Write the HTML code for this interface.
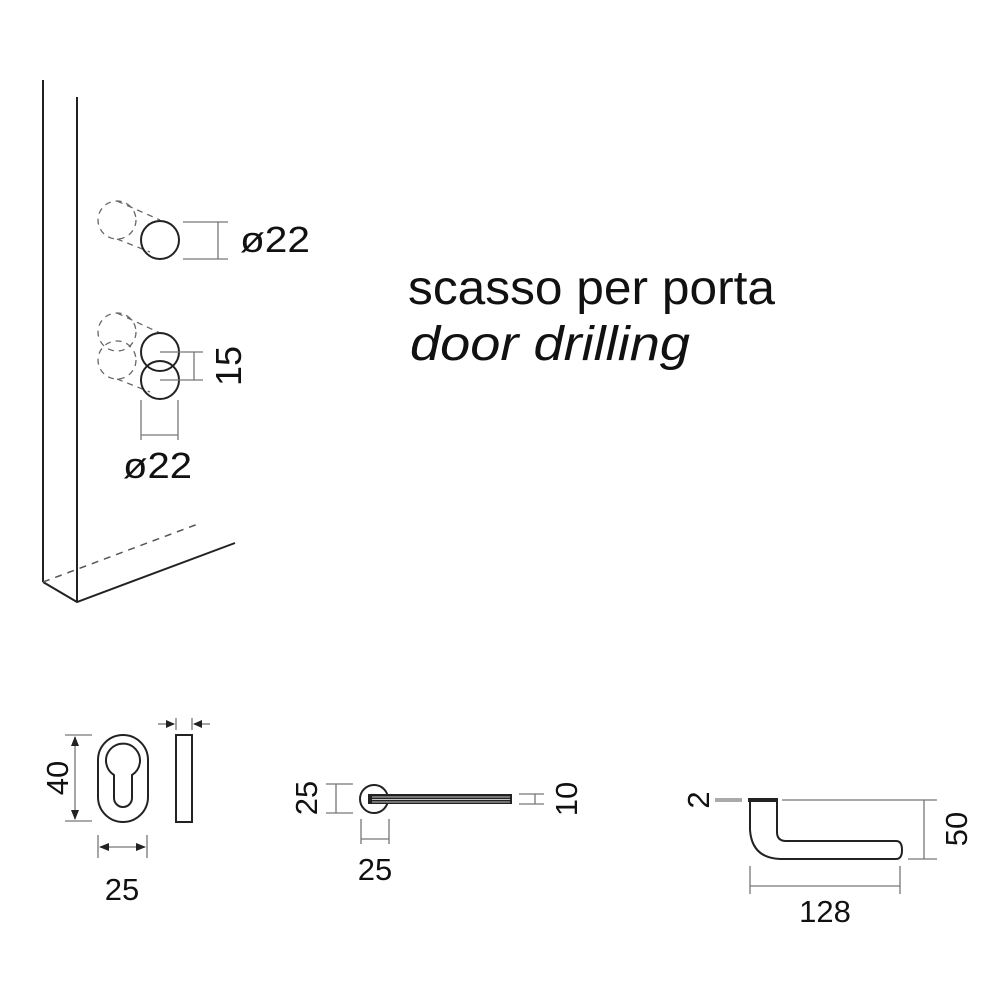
<!DOCTYPE html>
<html><head><meta charset="utf-8"><style>html,body{margin:0;padding:0;background:#fff}svg{display:block}</style></head>
<body>
<svg width="1000" height="1002" viewBox="0 0 1000 1002" xmlns="http://www.w3.org/2000/svg" font-family="Liberation Sans, sans-serif">
<rect width="1000" height="1002" fill="#fff"/>
<g fill="none" stroke="#222" stroke-width="2">
  <line x1="43" y1="80" x2="43" y2="582"/>
  <line x1="77" y1="97" x2="77" y2="602"/>
  <polyline points="43,582 77,602 235,543"/>
</g>
<line x1="43" y1="582" x2="198" y2="524" stroke="#555" stroke-width="1.5" stroke-dasharray="7,6"/>
<g fill="none" stroke="#666" stroke-width="1.3" stroke-dasharray="6,5">
  <circle cx="117" cy="220" r="19"/>
  <line x1="117" y1="201" x2="160" y2="220"/>
  <line x1="117" y1="239" x2="150" y2="252"/>
  <circle cx="117" cy="332" r="19"/>
  <circle cx="117" cy="360" r="19"/>
  <line x1="117" y1="313" x2="160" y2="333"/>
  <line x1="117" y1="379" x2="150" y2="392"/>
</g>
<g fill="none" stroke="#222" stroke-width="2">
  <circle cx="160" cy="240" r="19"/>
  <circle cx="160" cy="352" r="19"/>
  <circle cx="160" cy="380" r="19"/>
</g>
<g fill="none" stroke="#777" stroke-width="1.3">
  <line x1="183" y1="222" x2="228" y2="222"/>
  <line x1="183" y1="259" x2="228" y2="259"/>
  <line x1="218" y1="222" x2="218" y2="259"/>
  <line x1="160" y1="352" x2="203" y2="352"/>
  <line x1="160" y1="380" x2="203" y2="380"/>
  <line x1="194" y1="352" x2="194" y2="380"/>
  <line x1="141" y1="400" x2="141" y2="440"/>
  <line x1="178" y1="400" x2="178" y2="440"/>
  <line x1="141" y1="435" x2="178" y2="435"/>
</g>
<g fill="#111" font-size="36">
  <text x="240" y="252" textLength="70" lengthAdjust="spacingAndGlyphs">ø22</text>
  <text x="123" y="478" textLength="69" lengthAdjust="spacingAndGlyphs">ø22</text>
  <text transform="translate(241,366) rotate(-90)" text-anchor="middle">15</text>
  <text x="408" y="304" font-size="48" textLength="367" lengthAdjust="spacingAndGlyphs">scasso per porta</text>
  <text x="410" y="360" font-size="48" font-style="italic" textLength="280" lengthAdjust="spacingAndGlyphs">door drilling</text>
</g>
<g fill="none" stroke="#222" stroke-width="2">
  <rect x="98" y="735" width="50" height="87" rx="25"/>
  <path d="M114,775 A17,17 0 1 1 132,775 L132,798 A9,9 0 0 1 114,798 Z"/>
  <rect x="176" y="735" width="16" height="87"/>
</g>
<g fill="none" stroke="#777" stroke-width="1.3">
  <line x1="65" y1="735" x2="92" y2="735"/>
  <line x1="65" y1="821" x2="92" y2="821"/>
  <line x1="75" y1="737" x2="75" y2="819"/>
  <line x1="98" y1="835" x2="98" y2="858"/>
  <line x1="147" y1="835" x2="147" y2="858"/>
  <line x1="100" y1="847" x2="145" y2="847"/>
  <line x1="158" y1="724" x2="174" y2="724"/>
  <line x1="210" y1="724" x2="194" y2="724"/>
  <line x1="176" y1="718" x2="176" y2="730"/>
  <line x1="192" y1="718" x2="192" y2="730"/>
</g>
<g fill="#222">
  <polygon points="75,736 71,746 79,746"/>
  <polygon points="75,820 71,810 79,810"/>
  <polygon points="99,847 109,843 109,851"/>
  <polygon points="146,847 136,843 136,851"/>
  <polygon points="175,724 166,720 166,728"/>
  <polygon points="193,724 202,720 202,728"/>
</g>
<g fill="#111" font-size="31">
  <text transform="translate(68,778) rotate(-90)" text-anchor="middle">40</text>
  <text x="122" y="900" text-anchor="middle">25</text>
</g>
<circle cx="374" cy="799" r="14" fill="none" stroke="#222" stroke-width="2"/>
<rect x="368" y="794" width="144" height="10" fill="#222"/>
<g stroke="#fff" stroke-width="0.8">
  <line x1="372" y1="797" x2="510" y2="797"/>
  <line x1="372" y1="799.5" x2="510" y2="799.5"/>
  <line x1="372" y1="802" x2="510" y2="802"/>
</g>
<g fill="none" stroke="#777" stroke-width="1.3">
  <line x1="326" y1="784" x2="353" y2="784"/>
  <line x1="326" y1="813" x2="353" y2="813"/>
  <line x1="336" y1="784" x2="336" y2="813"/>
  <line x1="361" y1="819" x2="361" y2="844"/>
  <line x1="389" y1="819" x2="389" y2="844"/>
  <line x1="361" y1="839" x2="389" y2="839"/>
  <line x1="519" y1="794" x2="544" y2="794"/>
  <line x1="519" y1="804" x2="544" y2="804"/>
  <line x1="535" y1="794" x2="535" y2="804"/>
</g>
<g fill="#111" font-size="31">
  <text transform="translate(317,798) rotate(-90)" text-anchor="middle">25</text>
  <text x="375" y="880" text-anchor="middle">25</text>
  <text transform="translate(577,799) rotate(-90)" text-anchor="middle">10</text>
</g>
<rect x="748" y="798" width="30" height="4" fill="#222"/>
<path d="M750,802 L750,830 Q752,858 780,859 L896,859 Q902,859 902,850 Q902,841 896,841 L786,841 Q777,841 777,832 L777,802" fill="none" stroke="#222" stroke-width="2"/>
<g fill="none" stroke="#777" stroke-width="1.3">
  <line x1="782" y1="800" x2="937" y2="800"/>
  <line x1="908" y1="859" x2="937" y2="859"/>
  <line x1="924" y1="800" x2="924" y2="859"/>
  <line x1="750" y1="866" x2="750" y2="894"/>
  <line x1="900" y1="866" x2="900" y2="894"/>
  <line x1="750" y1="886" x2="900" y2="886"/>
  <line x1="715" y1="799" x2="742" y2="799"/>
  <line x1="715" y1="801" x2="742" y2="801"/>
</g>
<g fill="#111" font-size="31">
  <text transform="translate(709,800) rotate(-90)" text-anchor="middle">2</text>
  <text transform="translate(967,829) rotate(-90)" text-anchor="middle">50</text>
  <text x="825" y="922" text-anchor="middle">128</text>
</g>
</svg>
</body></html>
